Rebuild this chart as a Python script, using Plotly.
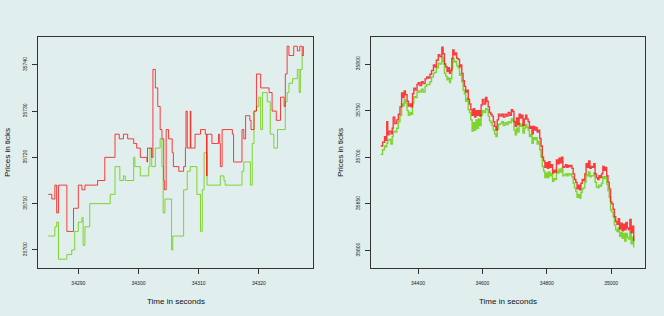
import plotly.graph_objects as go

# ---- left panel (zoom) ----
zoom_ask_t = [34285.0, 34285.6, 34286.1, 34286.4, 34286.7, 34288.1, 34289.2, 34290.0, 34290.6, 34291.1,
              34293.2, 34294.4, 34296.1, 34296.8, 34297.5, 34298.2, 34299.2, 34299.7, 34300.3, 34301.4,
              34301.5, 34302.2, 34302.4, 34302.8, 34303.2, 34303.6, 34303.9, 34304.2, 34304.3, 34304.6,
              34305.0, 34305.6, 34305.8, 34306.7, 34307.5, 34307.8, 34307.9, 34308.1, 34308.6, 34308.7,
              34309.4, 34310.3, 34311.1, 34311.3, 34311.4, 34312.2, 34313.3, 34313.5, 34313.6, 34313.9,
              34315.6, 34315.8, 34317.2, 34317.5, 34317.8, 34318.5, 34318.7, 34319.2, 34319.6, 34320.3,
              34321.7, 34322.2, 34322.9, 34323.6, 34324.2, 34324.4, 34324.7, 34325.0, 34325.8, 34326.4,
              34326.8, 34327.2, 34327.4]
zoom_ask_p = [35712, 35711, 35714, 35708, 35714, 35704, 35709, 35714, 35713, 35714,
              35715, 35720, 35725, 35724, 35725, 35724, 35723, 35722, 35720, 35719,
              35722, 35720, 35739, 35735, 35731, 35726, 35724, 35715, 35713, 35726,
              35724, 35721, 35718, 35717, 35718, 35722, 35730, 35722, 35730, 35722,
              35725, 35726, 35725, 35716, 35725, 35723, 35725, 35723, 35718, 35726,
              35725, 35719, 35726, 35724, 35729, 35728, 35726, 35730, 35738, 35735,
              35734, 35730, 35728, 35733, 35731, 35738, 35744, 35742, 35744, 35743,
              35744, 35742, 35744]

zoom_bid_t = [34285.0, 34286.1, 34286.4, 34286.7, 34288.1, 34288.9, 34289.4, 34290.0, 34290.6, 34290.8,
              34291.1, 34291.9, 34295.3, 34296.1, 34296.9, 34297.5, 34297.8, 34299.2, 34299.4, 34300.3,
              34301.7, 34301.9, 34302.2, 34302.8, 34303.6, 34303.9, 34304.1, 34304.4, 34305.4, 34305.5,
              34305.7, 34307.5, 34308.1, 34308.6, 34309.7, 34310.3, 34310.6, 34310.9, 34311.4, 34313.6,
              34314.2, 34314.4, 34317.2, 34317.5, 34318.6, 34318.9, 34319.2, 34319.6, 34320.0, 34320.3,
              34320.6, 34321.4, 34321.9, 34322.5, 34323.1, 34324.4, 34324.7, 34325.0, 34325.6, 34326.4,
              34326.7, 34326.9, 34327.2, 34327.4]
zoom_bid_p = [35703, 35705, 35706, 35698, 35699, 35700, 35704, 35706, 35707, 35701,
              35705, 35710, 35712, 35718, 35715, 35716, 35715, 35720, 35718, 35716,
              35718, 35722, 35718, 35722, 35724, 35718, 35708, 35711, 35711, 35700,
              35703, 35713, 35717, 35718, 35712, 35704, 35713, 35721, 35714, 35716,
              35715, 35714, 35717, 35719, 35714, 35723, 35730, 35731, 35733, 35726,
              35734, 35732, 35725, 35722, 35726, 35732, 35734, 35736, 35737, 35739,
              35734, 35739, 35742, 35742]

# ---- right panel (whole session) ----
day_t = [34284, 34290, 34296, 34300, 34303, 34306, 34310, 34316, 34320, 34323, 34328, 34334, 34339, 34344,
         34349, 34353, 34357, 34361, 34366, 34370, 34375, 34379, 34383, 34387, 34392, 34397, 34401, 34406,
         34411, 34416, 34422, 34427, 34432, 34437, 34442, 34448, 34452, 34457, 34463, 34468, 34474, 34478,
         34482, 34486, 34490, 34494, 34498, 34501, 34505, 34508, 34512, 34516, 34520, 34525, 34529, 34533,
         34536, 34540, 34544, 34548, 34552, 34556, 34560, 34564, 34568, 34572, 34576, 34580, 34584, 34588,
         34592, 34596, 34600, 34605, 34610, 34614, 34618, 34622, 34626, 34630, 34634, 34638, 34642, 34646,
         34650, 34655, 34660, 34665, 34670, 34675, 34680, 34685, 34690, 34694, 34698, 34702, 34706, 34710,
         34714, 34718, 34722, 34726, 34730, 34734, 34738, 34742, 34746, 34750, 34754, 34758, 34762, 34766,
         34770, 34774, 34778, 34782, 34786, 34790, 34794, 34798, 34802, 34806, 34810, 34814, 34818, 34822,
         34826, 34830, 34834, 34838, 34842, 34846, 34850, 34854, 34858, 34862, 34866, 34870, 34874, 34878,
         34882, 34886, 34890, 34894, 34898, 34902, 34906, 34910, 34914, 34918, 34922, 34926, 34930, 34934,
         34938, 34942, 34946, 34950, 34954, 34958, 34962, 34966, 34970, 34974, 34978, 34982, 34986, 34990,
         34994, 34998, 35002, 35006, 35010, 35014, 35018, 35022, 35026, 35030, 35034, 35038, 35042, 35046,
         35050, 35054, 35058, 35062, 35066, 35070]
day_ask = [35712, 35716, 35722, 35718, 35738, 35724, 35728, 35725, 35731, 35743, 35736, 35740, 35746, 35754,
           35769, 35764, 35771, 35767, 35760, 35755, 35757, 35754, 35768, 35774, 35772, 35778, 35780, 35777,
           35781, 35779, 35784, 35786, 35785, 35789, 35793, 35799, 35797, 35804, 35810, 35808, 35818, 35811,
           35800, 35797, 35792, 35796, 35790, 35793, 35806, 35815, 35810, 35812, 35806, 35805, 35797, 35799,
           35790, 35782, 35776, 35770, 35772, 35762, 35757, 35751, 35745, 35752, 35743, 35750, 35745, 35750,
           35744, 35756, 35762, 35757, 35764, 35760, 35754, 35748, 35746, 35744, 35738, 35733, 35729, 35740,
           35746, 35744, 35746, 35743, 35746, 35744, 35748, 35745, 35751, 35749, 35738, 35733, 35742, 35735,
           35746, 35742, 35745, 35734, 35741, 35745, 35741, 35738, 35731, 35733, 35725, 35733, 35729, 35732,
           35727, 35729, 35720, 35712, 35700, 35696, 35689, 35694, 35688, 35695, 35689, 35692, 35683, 35686,
           35684, 35697, 35693, 35699, 35694, 35700, 35689, 35690, 35692, 35689, 35691, 35690, 35691, 35688,
           35682, 35676, 35673, 35666, 35670, 35665, 35672, 35676, 35675, 35682, 35693, 35689, 35696, 35688,
           35690, 35689, 35693, 35682, 35678, 35676, 35680, 35678, 35682, 35690, 35686, 35689, 35680, 35673,
           35666, 35652, 35650, 35644, 35636, 35631, 35628, 35634, 35623, 35629, 35621, 35628, 35622, 35630,
           35624, 35622, 35633, 35619, 35626, 35610]
day_bid = [35703, 35708, 35712, 35711, 35715, 35718, 35719, 35714, 35722, 35728, 35727, 35731, 35738, 35745,
           35757, 35755, 35762, 35758, 35750, 35745, 35748, 35746, 35758, 35765, 35764, 35770, 35771, 35770,
           35773, 35770, 35776, 35778, 35778, 35781, 35786, 35790, 35791, 35796, 35801, 35800, 35807, 35803,
           35790, 35787, 35783, 35785, 35780, 35784, 35795, 35806, 35802, 35803, 35798, 35796, 35788, 35789,
           35781, 35772, 35768, 35760, 35763, 35751, 35748, 35740, 35728, 35737, 35729, 35740, 35731, 35741,
           35734, 35745, 35750, 35748, 35752, 35751, 35744, 35739, 35737, 35734, 35729, 35725, 35722, 35730,
           35735, 35736, 35738, 35734, 35737, 35735, 35738, 35737, 35741, 35739, 35729, 35724, 35731, 35727,
           35736, 35733, 35735, 35726, 35731, 35735, 35732, 35729, 35722, 35724, 35715, 35721, 35719, 35721,
           35714, 35717, 35708, 35700, 35690, 35685, 35678, 35683, 35678, 35684, 35680, 35682, 35674, 35677,
           35676, 35685, 35683, 35687, 35684, 35688, 35680, 35681, 35682, 35680, 35682, 35681, 35682, 35679,
           35672, 35667, 35663, 35657, 35660, 35656, 35662, 35666, 35667, 35673, 35681, 35680, 35684, 35679,
           35680, 35680, 35683, 35673, 35668, 35667, 35670, 35669, 35672, 35679, 35677, 35679, 35671, 35664,
           35657, 35643, 35641, 35636, 35627, 35622, 35620, 35624, 35615, 35619, 35613, 35618, 35610, 35618,
           35614, 35612, 35620, 35607, 35614, 35603]

left_xticks = [34290, 34300, 34310, 34320]
left_yticks = [35700, 35710, 35720, 35730, 35740]
right_xticks = [34400, 34600, 34800, 35000]
right_yticks = [35600, 35650, 35700, 35750, 35800]

BG = "#E0EEEE"
RED = "rgba(255,0,0,0.75)"
GREEN = "rgba(102,205,0,0.8)"

fig = go.Figure()
fig.add_trace(go.Scatter(x=zoom_bid_t, y=zoom_bid_p, mode="lines", line=dict(color=GREEN, width=1, shape="hv"),
                         xaxis="x", yaxis="y", hoverinfo="skip"))
fig.add_trace(go.Scatter(x=zoom_ask_t, y=zoom_ask_p, mode="lines", line=dict(color=RED, width=1, shape="hv"),
                         xaxis="x", yaxis="y", hoverinfo="skip"))
fig.add_trace(go.Scatter(x=day_t, y=day_bid, mode="lines", line=dict(color=GREEN, width=1.4, shape="hv"),
                         xaxis="x2", yaxis="y2", hoverinfo="skip"))
fig.add_trace(go.Scatter(x=day_t, y=day_ask, mode="lines", line=dict(color=RED, width=1.4, shape="hv"),
                         xaxis="x2", yaxis="y2", hoverinfo="skip"))

W, H = 664, 316
ydom = [(H - 268) / H, (H - 37) / H]
axis_common = dict(showgrid=False, zeroline=False, showline=True, linecolor="#333333", linewidth=1,
                   mirror=True, ticks="outside", ticklen=5, tickcolor="#333333", tickwidth=1,
                   tickfont=dict(family="Liberation Sans, Arial, sans-serif", size=5, color="#222222"))

fig.update_layout(
    width=W, height=H, showlegend=False,
    margin=dict(l=0, r=0, t=0, b=0),
    paper_bgcolor=BG, plot_bgcolor=BG,
    xaxis=dict(domain=[38 / W, 313 / W], range=[34283.3, 34329.0], tickvals=left_xticks,
               ticktext=[str(v) for v in left_xticks], anchor="y", ticklabelstandoff=5, **axis_common),
    yaxis=dict(domain=ydom, range=[35696.1, 35746.0], tickvals=left_yticks,
               ticktext=[str(v) for v in left_yticks], anchor="x", tickangle=-90, ticklabelstandoff=3,
               **axis_common),
    xaxis2=dict(domain=[371 / W, 645 / W], range=[34254, 35105], tickvals=right_xticks,
                ticktext=[str(v) for v in right_xticks], anchor="y2", ticklabelstandoff=5, **axis_common),
    yaxis2=dict(domain=ydom, range=[35581, 35829], tickvals=right_yticks,
                ticktext=[str(v) for v in right_yticks], anchor="x2", tickangle=-90, ticklabelstandoff=3,
                **axis_common),
)

title_font = dict(family="Liberation Sans, Arial, sans-serif", size=8, color="#111111")
for xc in [(38 + 313) / 2, (371 + 645) / 2]:
    fig.add_annotation(text="Time in seconds", x=xc / W, y=(H - 301) / H, xref="paper", yref="paper",
                       showarrow=False, font=title_font, xanchor="center", yanchor="middle")
for xc in [7, 340]:
    fig.add_annotation(text="Prices in ticks", x=xc / W, y=(H - 153) / H, xref="paper", yref="paper",
                       showarrow=False, font=title_font, textangle=-90, xanchor="center", yanchor="middle")

fig.write_html("out.html", config={"displayModeBar": False},
               post_script="document.body.style.margin='0';document.body.style.background='#E0EEEE';")
